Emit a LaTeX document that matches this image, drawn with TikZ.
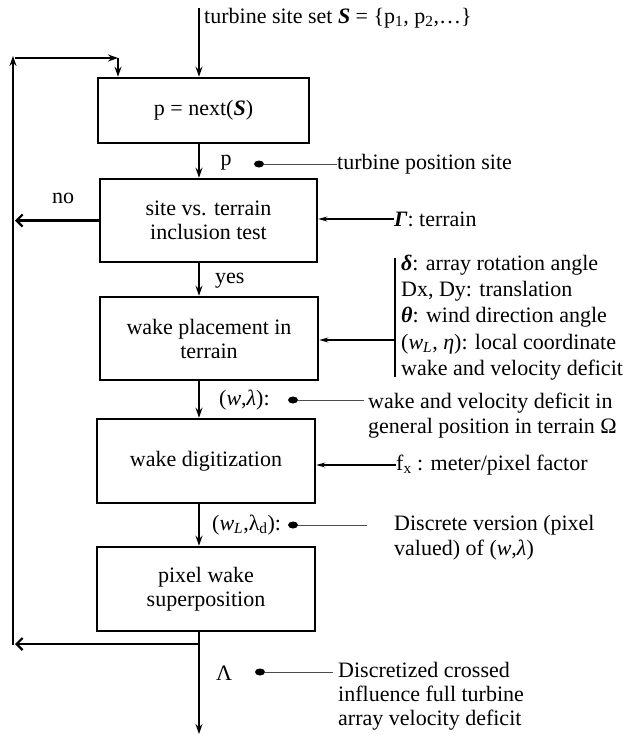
\documentclass[tikz,border=0pt]{standalone}
\usepackage{fontspec}
\setmainfont{Liberation Serif}
\usetikzlibrary{arrows.meta,shapes.geometric}

\begin{document}
\begin{tikzpicture}[x=1pt,y=-1pt,
  every node/.style={font=\fontsize{22}{25}\selectfont, inner sep=0pt},
  stepbox/.style={draw, line width=2.6pt, align=center,
    font=\fontsize{22}{24}\selectfont},
  flow/.style={line width=1.8pt, -{Stealth[length=10pt,width=7pt]}},
  back/.style={line width=2.2pt, -{Straight Barb[length=6pt,width=12pt]}},
  feed/.style={line width=1.1pt, -{Stealth[length=9pt,width=5pt]}},
  annot/.style={line width=0.9pt, draw=black!70},
  bracket/.style={line width=1.2pt},
  dotm/.style={ellipse, fill=black, minimum width=10pt, minimum height=7pt},
  note/.style={anchor=west, align=left}]

\useasboundingbox (0,0) rectangle (634,736);

% process boxes
\node[stepbox, minimum width=211pt, minimum height=65pt] (b1) at (203.5,110.5) {p = next(\textbf{\textit{S}})};
\node[stepbox, minimum width=217pt, minimum height=83pt] (b2) at (208.5,220.5) {site vs. terrain\\inclusion test};
\node[stepbox, minimum width=218pt, minimum height=83pt] (b3) at (209,338.5) {wake placement in\\terrain};
\node[stepbox, minimum width=218pt, minimum height=84pt] (b4) at (206,461) {wake digitization};
\node[stepbox, minimum width=218pt, minimum height=84pt] (b5) at (206,589) {pixel wake\\superposition};

% main flow line
\coordinate (top) at (199,8);
\coordinate (out) at (199,734);
\coordinate (fb) at (199,644);
\draw[flow] (top) -- (top |- b1.north);
\draw[flow] (top |- b1.south) -- (top |- b2.north);
\draw[flow] (top |- b2.south) -- (top |- b3.north);
\draw[flow] (top |- b3.south) -- (top |- b4.north);
\draw[flow] (top |- b4.south) -- (top |- b5.north);
\draw[line width=1.8pt] (top |- b5.south) -- (fb);
\draw[flow] (fb) -- (out);

% feedback loop on the left
\coordinate (lb) at (13,645);
\coordinate (lt) at (13,56);
\coordinate (ls) at (15,58);
\coordinate (lc) at (118,58);
\draw[back] (fb) -- (15,644);
\draw[flow] (lb) -- (lt);
\draw[flow] (ls) -- (lc);
\draw[flow] (lc) -- (lc |- b1.north);
\draw[back] (b2.west) -- (b2.west -| ls);
\node (nolab) at (63,198) {no};
\node[anchor=west] (yeslab) at (215,281) {yes};

% input set
\node[anchor=west] (sset) at (204,18) {turbine site set \textbf{\textit{S}} = \{p\textsubscript{1}, p\textsubscript{2},…\}};

% turbine position
\node (plab) at (226,163) {p};
\node[dotm] (d1) at (259,164) {};
\node[note] (t1) at (337,164) {turbine position site};
\draw[annot] (d1) -- (t1.west);

% terrain input
\node[note] (tg) at (394,219) {\textbf{\textit{Γ}}: terrain};
\draw[feed] (tg.west) -- (tg.west -| b2.east);

% placement parameters
\coordinate (brt) at (395,258);
\coordinate (brb) at (395,377);
\coordinate (brm) at (395,340);
\draw[bracket] (brt) -- (brb);
\draw[feed] (brm) -- (brm -| b3.east);
\node[note, font=\fontsize{22}{26.2}\selectfont] (tb) at (401,317.5)
  {\textbf{\textit{δ}}: array rotation angle\\Dx, Dy: translation\\\textbf{\textit{θ}}: wind direction angle\\(\textit{w\textsubscript{L}}, \textit{η}): local coordinate\\wake and velocity deficit};

% wake in general position
\node[anchor=west] (wl) at (219,400) {(\textit{w},\textit{λ}):};
\node[dotm] (d2) at (293,400) {};
\coordinate (e2) at (364,400);
\draw[annot] (d2) -- (e2);
\node[note] (t2) at (368,415.5) {wake and velocity deficit in\\general position in terrain Ω};

% pixel factor
\node[note] (tf) at (396,465) {f\textsubscript{x} : meter/pixel factor};
\draw[feed] (tf.west) -- (tf.west -| b4.east);

% discrete wake
\node[anchor=west] (wld) at (212,525) {(\textit{w\textsubscript{L}},λ\textsubscript{d}):};
\node[dotm] (d3) at (293,525) {};
\coordinate (e3) at (367,525);
\draw[annot] (d3) -- (e3);
\node[note] (t3) at (394,537.5) {Discrete version (pixel\\valued) of (\textit{w},\textit{λ})};

% output deficit
\node (lam) at (224,673) {Λ};
\node[dotm] (d4) at (260,672) {};
\coordinate (e4) at (333,672);
\draw[annot] (d4) -- (e4);
\node[note, font=\fontsize{22}{24}\selectfont] (t4) at (338,696) {Discretized crossed\\influence full turbine\\array velocity deficit};

\end{tikzpicture}
\end{document}
